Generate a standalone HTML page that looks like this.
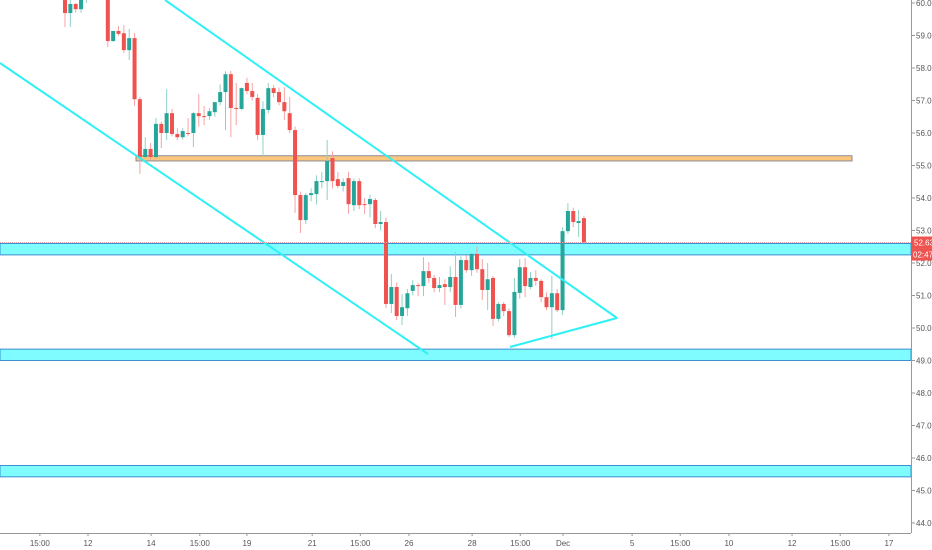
<!DOCTYPE html>
<html><head><meta charset="utf-8"><style>
html,body{margin:0;padding:0;background:#fff;}
svg{display:block;font-family:"Liberation Sans",sans-serif;}
</style></head><body>
<svg id="chart" width="932" height="550" viewBox="0 0 932 550">
<g id="bands"></g>
<g id="candles"></g>
<g id="drawings"></g>
<g id="axes"></g>
</svg>
<script>
const opens  = [60.09,59.69,59.97,59.81,60.2,60.6,60.4,60.7,60.5,58.83,59.14,59.07,58.55,58.92,57.04,55.26,55.51,55.26,56.28,56.0,56.61,55.97,55.87,56.0,56.0,56.61,56.52,56.52,56.64,56.95,57.26,57.81,56.77,56.74,57.54,57.29,57.08,55.94,56.71,57.38,57.26,56.95,56.61,56.09,54.09,53.32,54.09,54.12,54.49,54.52,55.23,54.58,54.37,54.61,53.78,54.52,53.81,53.81,53.94,53.2,53.26,50.74,51.26,50.37,50.61,51.14,51.32,51.29,51.75,51.54,51.23,51.35,51.26,51.57,50.71,52.09,51.78,52.28,51.81,51.17,51.54,50.28,50.74,50.52,49.78,51.08,51.87,51.26,51.54,51.45,50.95,50.64,51.07,50.55,52.98,53.6,53.23,53.38];
const highs  = [60.2,60.1,60.0,60.3,60.8,60.9,60.9,60.9,60.6,59.0,59.29,59.32,59.2,59.08,57.1,55.87,55.69,56.46,56.35,57.35,56.74,56.15,56.15,56.46,56.65,57.2,56.83,56.77,56.95,57.5,57.9,57.91,57.54,57.4,57.7,57.54,57.2,56.98,57.54,57.48,57.4,57.41,57.11,56.2,54.2,54.15,54.3,54.7,54.8,55.78,55.44,54.8,54.6,54.8,54.6,54.61,54.0,54.1,54.0,53.6,53.4,51.66,51.4,51.04,51.2,51.47,51.38,52.18,52.03,51.63,51.57,51.5,51.9,52.34,52.2,52.24,52.3,52.52,52.12,52.0,51.6,50.8,50.8,50.6,51.54,52.12,52.15,51.72,51.78,51.5,51.1,51.6,51.2,53.1,53.84,53.7,53.63,53.45];
const lows   = [59.26,59.26,59.7,59.7,60.0,60.3,60.2,60.3,58.65,58.8,59.0,58.46,58.25,56.83,54.74,55.2,55.17,55.2,55.54,55.78,55.9,55.78,55.8,55.91,55.57,56.2,56.24,56.4,56.5,56.85,56.09,55.87,56.24,56.7,57.2,57.0,55.78,55.29,56.6,57.1,56.85,56.4,56.0,53.54,52.92,53.2,53.9,53.8,54.3,53.94,54.3,54.3,54.2,53.51,53.6,53.66,53.5,53.4,53.07,53.0,50.61,50.46,50.24,50.09,50.37,51.0,50.98,50.98,51.4,51.1,51.1,50.71,51.1,50.34,50.6,51.7,51.6,51.7,50.86,50.55,50.06,50.2,50.37,49.72,49.7,50.9,50.95,51.2,51.3,50.8,50.55,49.66,50.49,50.4,52.9,53.1,52.8,52.6];
const closes = [59.69,59.97,59.81,60.2,60.6,60.4,60.7,60.5,58.83,59.14,59.05,58.55,58.92,57.04,55.26,55.51,55.26,56.28,56.0,56.61,55.97,55.87,56.06,55.97,56.61,56.52,56.49,56.67,56.95,57.26,57.81,56.77,56.74,57.38,57.29,57.11,55.94,56.74,57.38,57.23,56.95,56.67,56.09,54.09,53.32,54.09,54.15,54.52,54.52,55.14,54.52,54.37,54.49,53.81,54.52,53.78,53.78,53.97,53.2,53.26,50.74,51.26,50.37,50.64,51.07,51.32,51.3,51.75,51.54,51.23,51.32,51.26,51.57,50.71,52.09,51.78,52.28,51.81,51.17,51.5,50.28,50.74,50.52,49.78,51.11,51.87,51.29,51.54,51.45,50.95,50.64,51.07,50.55,52.98,53.6,53.26,53.29,52.63];
const priceTicks = [60,59,58,57,56,55,54,53,52,51,50,49,48,47,46,45,44];
const timeLabels = ["15:00","12","14","15:00","19","21","15:00","26","28","15:00","Dec","5","15:00","10","12","15:00","17"];
const timeIdx = [-4.7,4.3,16.1,25.2,34,46.2,55.2,64.3,76.1,85.1,93.1,106,115,124.1,135.9,144.9,154];
const supportLevels = [[52.60,52.25],[49.35,49.0],[45.77,45.42]];
const resistLevel = [55.30,55.14];
const lastPrice = 52.63;

const NS="http://www.w3.org/2000/svg";
const yS = p => 3 + (60 - p) * 32.5;
const xS = i => 65 + i * 5.35;
function mk(tag, attrs, parent){const e=document.createElementNS(NS,tag);for(const k in attrs)e.setAttribute(k,attrs[k]);parent.appendChild(e);return e;}
const gB=document.getElementById('bands'),gC=document.getElementById('candles'),gD=document.getElementById('drawings'),gA=document.getElementById('axes');

supportLevels.forEach((b,k)=>{
  const r=mk('rect',{x:0,y:yS(b[0]),width:911,height:yS(b[1])-yS(b[0]),fill:'#7ffcff',stroke:'#3d8fd0','stroke-width':1},gB);
  
  
});
const rb=mk('rect',{x:136,y:yS(resistLevel[0]),width:716,height:yS(resistLevel[1])-yS(resistLevel[0]),fill:'#fcc77a',stroke:'#8a8a9a','stroke-width':1},gB);



for(let i=0;i<opens.length;i++){
  const up=closes[i]>=opens[i];
  const g=mk('g',{},gC);
  
  
  const x=xS(i);
  mk('line',{x1:x,x2:x,y1:yS(highs[i]),y2:yS(lows[i]),stroke:up?'#8fd0c5':'#f5a3a3','stroke-width':1},g);
  const t=yS(Math.max(opens[i],closes[i])),b=yS(Math.min(opens[i],closes[i]));
  mk('rect',{x:x-2,y:t,width:4,height:Math.max(1,b-t),fill:up?'#26a69a':'#ef5350'},g);
}

const l1=mk('line',{x1:165,y1:0,x2:617,y2:318,stroke:'#2ff0f5','stroke-width':2},gD);


const l2=mk('line',{x1:0,y1:63,x2:428,y2:354,stroke:'#2ff0f5','stroke-width':2},gD);


const l3=mk('line',{x1:510,y1:347,x2:617,y2:318,stroke:'#2ff0f5','stroke-width':2},gD);


const pl=mk('line',{x1:0,y1:yS(lastPrice),x2:911,y2:yS(lastPrice),stroke:'#f4a0a0','stroke-width':1,'stroke-dasharray':'1 1'},gD);



mk('line',{x1:911.5,y1:0,x2:911.5,y2:533,stroke:'#999','stroke-width':1},gA);
mk('line',{x1:0,y1:533.5,x2:911,y2:533.5,stroke:'#999','stroke-width':1},gA);
priceTicks.forEach(p=>{
  const y=yS(p);
  mk('line',{x1:911,x2:915,y1:y,y2:y,stroke:'#999'},gA);
  const t=mk('text',{x:916,y:y+3,'font-size':8,fill:'#555'},gA);
  t.textContent=p.toFixed(2);
  
  
});
timeIdx.forEach((ix,k)=>{
  const x=xS(ix);
  mk('line',{x1:x,x2:x,y1:533,y2:536,stroke:'#999'},gA);
  const t=mk('text',{x:x,y:546,'font-size':8,fill:'#555','text-anchor':'middle'},gA);
  t.textContent=timeLabels[k];
  
  
});
const ly=yS(lastPrice);
const lb=mk('rect',{x:911,y:ly-6,width:21,height:12,fill:'#ef5350'},gA);


const lt=mk('text',{x:914,y:ly+3,'font-size':8,fill:'#fff'},gA);
lt.textContent=lastPrice.toFixed(2);


const cb=mk('rect',{x:911,y:ly+6,width:21,height:12,fill:'#ef5350'},gA);


const ct=mk('text',{x:913,y:ly+15,'font-size':8,fill:'#fff'},gA);
ct.textContent='02:47:3';


</script>
</body></html>
